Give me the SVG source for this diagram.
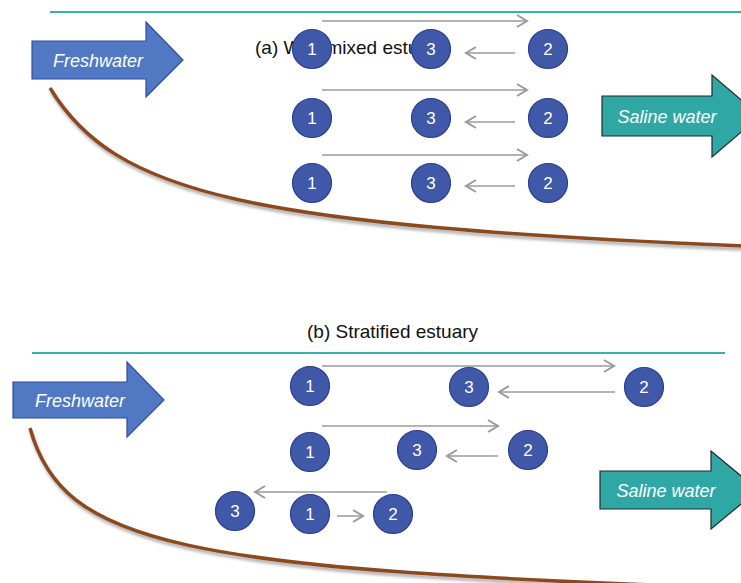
<svg xmlns="http://www.w3.org/2000/svg" width="741" height="583" viewBox="0 0 741 583">
<style>
.node circle{fill:#3f58a8;stroke:#2c3f8f;stroke-width:1.2}
.node text{fill:#fff;font-family:"Liberation Sans",Arial,sans-serif;font-size:17px;text-anchor:middle}
.flow{stroke:#9a9a9a;stroke-width:1.5;fill:none;marker-end:url(#chev)}
.title{font-family:"Liberation Sans",Arial,sans-serif;font-size:19px;fill:#111}
.surface{stroke:#3ab0ac;stroke-width:2.2;fill:none}
.bed{stroke:#8b4a1f;stroke-width:3.5;fill:none;filter:url(#sh)}
.fresh{fill:#5178c2;stroke:#2f4d9c;stroke-width:1.2}
.saline{fill:#2fa8a5;stroke:#1e2b2b;stroke-width:1.2}
.lbl{fill:#fff;font-family:"Liberation Sans",Arial,sans-serif;font-style:italic;font-size:18px;text-anchor:middle}
</style>
<defs>
<marker id="chev" markerUnits="userSpaceOnUse" markerWidth="14" markerHeight="16" refX="11" refY="7" orient="auto">
<path d="M1,1 L11,7 L1,13" fill="none" stroke="#9a9a9a" stroke-width="2"/>
</marker>
<filter id="sh" x="-10%" y="-20%" width="120%" height="150%">
<feDropShadow dx="1" dy="3" stdDeviation="1.6" flood-color="#777" flood-opacity="0.6"/>
</filter>
</defs>
<rect width="741" height="583" fill="#fff"/>

<!-- (a) Well-mixed -->
<g id="panel-a">
<line class="surface" x1="50" y1="12" x2="741" y2="12"/>
<path class="bed" d="M50,88 C115,195 250,225 745,246"/>
<text class="title" x="255" y="54">(a) Well-mixed estuary</text>
<g id="fresh-a"><path class="fresh" d="M32,41 H146 V22 L183,60 L146,97 V79 H32 Z"/><text class="lbl" x="98" y="67">Freshwater</text></g>
<g id="saline-a"><path class="saline" d="M602,96 H712 V75 L760,116 L712,157 V136 H602 Z"/><text class="lbl" x="667" y="123">Saline water</text></g>
</g>
<g id="connectors-a">
<line class="flow" x1="322" y1="21" x2="527" y2="21"/>
<line class="flow" x1="515" y1="53" x2="466" y2="53"/>
<line class="flow" x1="322" y1="90" x2="527" y2="90"/>
<line class="flow" x1="515" y1="122" x2="466" y2="122"/>
<line class="flow" x1="322" y1="155" x2="527" y2="155"/>
<line class="flow" x1="515" y1="186" x2="466" y2="186"/>
</g>
<g id="a-r1-1" class="node"><circle cx="312" cy="49" r="19.5"/><text x="312" y="55">1</text></g>
<g id="a-r1-3" class="node"><circle cx="431" cy="49" r="19.5"/><text x="431" y="55">3</text></g>
<g id="a-r1-2" class="node"><circle cx="548" cy="49" r="19.5"/><text x="548" y="55">2</text></g>
<g id="a-r2-1" class="node"><circle cx="312" cy="118" r="19.5"/><text x="312" y="124">1</text></g>
<g id="a-r2-3" class="node"><circle cx="431" cy="118" r="19.5"/><text x="431" y="124">3</text></g>
<g id="a-r2-2" class="node"><circle cx="548" cy="118" r="19.5"/><text x="548" y="124">2</text></g>
<g id="a-r3-1" class="node"><circle cx="312" cy="183" r="19.5"/><text x="312" y="189">1</text></g>
<g id="a-r3-3" class="node"><circle cx="431" cy="183" r="19.5"/><text x="431" y="189">3</text></g>
<g id="a-r3-2" class="node"><circle cx="548" cy="183" r="19.5"/><text x="548" y="189">2</text></g>

<!-- (b) Stratified -->
<g id="panel-b">
<text class="title" x="307" y="338">(b) Stratified estuary</text>
<line class="surface" x1="32" y1="353" x2="725" y2="353"/>
<path class="bed" d="M30,428 C62,545 180,570 745,588"/>
<g id="fresh-b"><path class="fresh" d="M13,382 H127 V362 L164,400 L127,437 V418 H13 Z"/><text class="lbl" x="80" y="407">Freshwater</text></g>
<g id="saline-b"><path class="saline" d="M600,471 H711 V451 L758,490 L711,529 V509 H600 Z"/><text class="lbl" x="666" y="497">Saline water</text></g>
</g>
<g id="connectors-b">
<line class="flow" x1="322" y1="366" x2="614" y2="366"/>
<line class="flow" x1="615" y1="392" x2="499" y2="392"/>
<line class="flow" x1="322" y1="426" x2="498" y2="426"/>
<line class="flow" x1="498" y1="456" x2="447" y2="456"/>
<line class="flow" x1="387" y1="492" x2="255" y2="492"/>
<line class="flow" x1="337" y1="516" x2="363" y2="516"/>
</g>
<g id="b-r1-1" class="node"><circle cx="310" cy="386" r="19.5"/><text x="310" y="392">1</text></g>
<g id="b-r1-3" class="node"><circle cx="469" cy="387" r="19.5"/><text x="469" y="393">3</text></g>
<g id="b-r1-2" class="node"><circle cx="644" cy="387" r="19.5"/><text x="644" y="393">2</text></g>
<g id="b-r2-1" class="node"><circle cx="310" cy="452" r="19.5"/><text x="310" y="458">1</text></g>
<g id="b-r2-3" class="node"><circle cx="417" cy="450" r="19.5"/><text x="417" y="456">3</text></g>
<g id="b-r2-2" class="node"><circle cx="528" cy="450" r="19.5"/><text x="528" y="456">2</text></g>
<g id="b-r3-3" class="node"><circle cx="235" cy="511" r="19.5"/><text x="235" y="517">3</text></g>
<g id="b-r3-1" class="node"><circle cx="310" cy="514" r="19.5"/><text x="310" y="520">1</text></g>
<g id="b-r3-2" class="node"><circle cx="393" cy="514" r="19.5"/><text x="393" y="520">2</text></g>
</svg>
